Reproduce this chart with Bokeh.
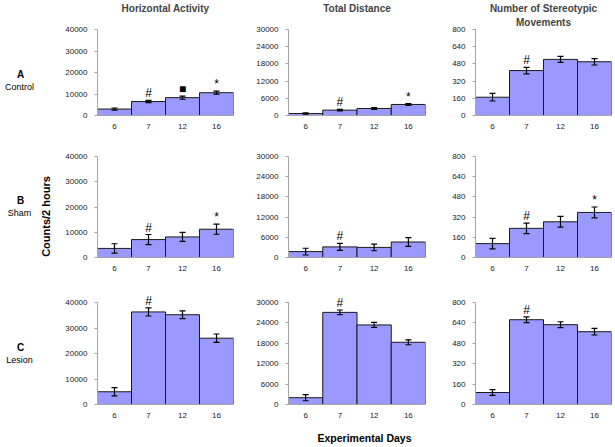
import math
from bokeh.plotting import figure
from bokeh.models import (FactorRange, Range1d, FixedTicker, ColumnDataSource,
                          Whisker, TeeHead, LabelSet, Title)
from bokeh.layouts import row, column
from bokeh.embed import file_html
from bokeh.resources import INLINE
from bokeh.core.properties import value

days = ["6", "7", "12", "16"]

col_titles = [["Horizontal Activity"], ["Total Distance"],
              ["Number of Stereotypic", "Movements"]]
col_ymax = [40000, 30000, 800]
col_step = [10000, 6000, 160]

row_letters = ["A", "B", "C"]
row_groups = ["Control", "Sham", "Lesion"]

# A  Control
ha_control = [3000, 6500, 8300, 10600]
ha_control_err = [500, 500, 750, 700]
ha_control_marks = ["", "#", "\u25a0", "*"]
td_control = [700, 1870, 2450, 3850]
td_control_err = [250, 250, 300, 300]
td_control_marks = ["", "#", "", "*"]
st_control = [170, 418, 522, 500]
st_control_err = [35, 30, 28, 30]
st_control_marks = ["", "#", "", ""]

# B  Sham
ha_sham = [3600, 7100, 8150, 11200]
ha_sham_err = [1850, 2000, 1800, 2000]
ha_sham_marks = ["", "#", "", "*"]
td_sham = [1750, 3150, 3000, 4600]
td_sham_err = [1000, 1050, 1000, 1300]
td_sham_marks = ["", "#", "", ""]
st_sham = [110, 231, 283, 357]
st_sham_err = [42, 42, 43, 43]
st_sham_marks = ["", "#", "", "*"]

# C  Lesion
ha_lesion = [5000, 36300, 35200, 26000]
ha_lesion_err = [1600, 1600, 1500, 1650]
ha_lesion_marks = ["", "#", "", ""]
td_lesion = [2000, 27100, 23400, 18300]
td_lesion_err = [900, 700, 730, 730]
td_lesion_marks = ["", "#", "", ""]
st_lesion = [94, 665, 626, 571]
st_lesion_err = [22, 23, 23, 26]
st_lesion_marks = ["", "#", "", ""]

data = [
    [(ha_control, ha_control_err, ha_control_marks),
     (td_control, td_control_err, td_control_marks),
     (st_control, st_control_err, st_control_marks)],
    [(ha_sham, ha_sham_err, ha_sham_marks),
     (td_sham, td_sham_err, td_sham_marks),
     (st_sham, st_sham_err, st_sham_marks)],
    [(ha_lesion, ha_lesion_err, ha_lesion_marks),
     (td_lesion, td_lesion_err, td_lesion_marks),
     (st_lesion, st_lesion_err, st_lesion_marks)],
]

FONT = "Liberation Sans"
BAR = "#9999ff"

# layout geometry (pixels)
LEFT_W = 58
col_w = [190, 190, 175]
col_bl = [39, 40, 37]
col_br = [15, 13, 2]
row_h = [140, 143, 145]
row_bt = [28, 16, 9]
row_bb = [25, 26, 24]
row_ext = [0, 0, 10]   # extra frame space above the top tick (room for markers)


def make_panel(ri, ci):
    vals, errs, marks = data[ri][ci]
    ymax = col_ymax[ci]
    step = col_step[ci]
    frame_h = row_h[ri] - row_bt[ri] - row_bb[ri]
    y_end = ymax * frame_h / (frame_h - row_ext[ri])
    src = ColumnDataSource(dict(
        day=days, val=vals,
        upper=[v + e for v, e in zip(vals, errs)],
        lower=[v - e for v, e in zip(vals, errs)],
        mark=marks))
    p = figure(x_range=FactorRange(*days, range_padding=0), y_range=Range1d(0, y_end),
               width=col_w[ci], height=row_h[ri], output_backend="svg",
               toolbar_location=None, title=None,
               min_border_left=col_bl[ci], min_border_right=col_br[ci],
               min_border_top=row_bt[ri], min_border_bottom=row_bb[ri])
    p.vbar(x="day", top="val", width=1.0, source=src, fill_color=BAR,
           line_color="#1a1a1a", line_width=1)
    w = Whisker(source=src, base="day", upper="upper", lower="lower",
                line_color="black", line_width=1.2, level="overlay",
                upper_head=TeeHead(size=6, line_color="black", line_width=1.2),
                lower_head=TeeHead(size=6, line_color="black", line_width=1.2))
    p.add_layout(w)
    ls = LabelSet(source=src, x="day", y="upper", text="mark", y_offset=3,
                  text_align="center", text_baseline="alphabetic",
                  text_font=value(FONT), text_font_size="12px", text_color="black")
    p.add_layout(ls)

    p.yaxis.ticker = FixedTicker(ticks=list(range(0, ymax + 1, step)))
    p.yaxis.bounds = (0, ymax)
    p.yaxis.axis_line_color = "#a6a6a6"
    p.yaxis.major_tick_line_color = "#a6a6a6"
    p.yaxis.major_tick_out = 3
    p.yaxis.major_tick_in = 0
    p.yaxis.minor_tick_line_color = None
    p.yaxis.minor_tick_out = 0
    p.yaxis.minor_tick_in = 0
    p.yaxis.major_label_standoff = 7
    p.xaxis.axis_line_color = "#a6a6a6"
    p.xaxis.major_tick_line_color = None
    p.xaxis.major_tick_out = 0
    p.xaxis.major_tick_in = 0
    p.xaxis.major_label_standoff = 8
    for ax in (p.xaxis, p.yaxis):
        ax.major_label_text_font = FONT
        ax.major_label_text_font_size = "8px"
        ax.major_label_text_color = "#222222"
    p.xgrid.visible = False
    p.ygrid.visible = False
    p.outline_line_color = None
    if ri == 0:
        lines = list(col_titles[ci])
        if len(lines) == 1:
            lines = lines + ["\u00a0"]   # spacer line so single titles sit at the top
        for txt, so in zip(reversed(lines), [3, 0]):
            p.add_layout(Title(text=txt, align="center", text_font=FONT,
                               text_font_size="10px", text_font_style="bold",
                               standoff=so), "above")
    return p


rows = []
for ri in range(3):
    rows.append(row(*[make_panel(ri, ci) for ci in range(3)]))
grid = column(*rows)

H = sum(row_h)
left = figure(width=LEFT_W, height=H, x_range=Range1d(0, LEFT_W), y_range=Range1d(H, 0),
              x_axis_type=None, y_axis_type=None, output_backend="svg",
              toolbar_location=None, min_border=0)
left.xgrid.visible = False
left.ygrid.visible = False
left.outline_line_color = None
letter_y = [74, 200, 347]
group_y = [86, 212, 359]
left.text(x=[20] * 3, y=letter_y, text=row_letters, text_align="center",
          text_baseline="middle", text_font=value(FONT), text_font_size="10px",
          text_font_style="bold", text_color="black")
left.text(x=[19] * 3, y=group_y, text=row_groups, text_align="center",
          text_baseline="middle", text_font=value(FONT), text_font_size="9px",
          text_color="black")
left.text(x=[45], y=[216], text=["Counts/2 hours"], angle=math.pi / 2,
          text_align="center", text_baseline="middle", text_font=value(FONT),
          text_font_size="11px", text_font_style="bold", text_color="black")

BW = LEFT_W + sum(col_w)
BH = 17
bottom = figure(width=BW, height=BH, x_range=Range1d(0, BW), y_range=Range1d(BH, 0),
                x_axis_type=None, y_axis_type=None, output_backend="svg",
                toolbar_location=None, min_border=0)
bottom.xgrid.visible = False
bottom.ygrid.visible = False
bottom.outline_line_color = None
bottom.text(x=[364], y=[9], text=["Experimental Days"], text_align="center",
            text_baseline="middle", text_font=value(FONT), text_font_size="10.5px",
            text_font_style="bold", text_color="black")

layout = column(row(left, grid), bottom)
open("out.html", "w").write(file_html(layout, INLINE))
